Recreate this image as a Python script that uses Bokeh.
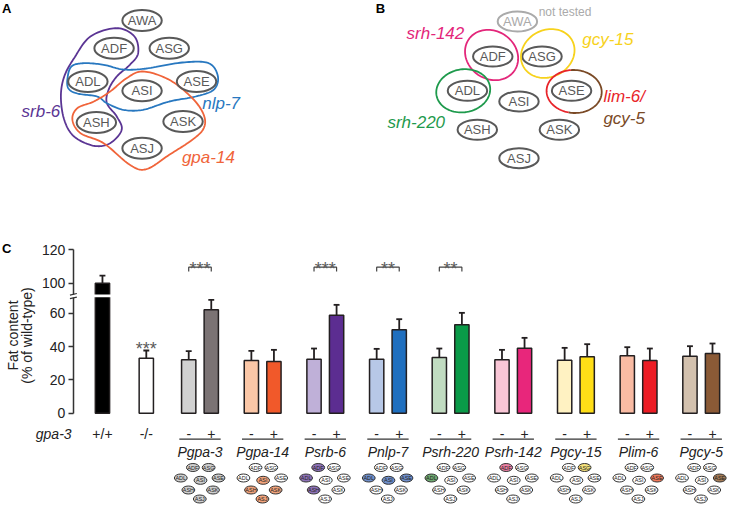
import numpy as np
from bokeh.plotting import figure
from bokeh.models import Range1d, FixedTicker
from bokeh.core.properties import value
from bokeh.embed import file_html
from bokeh.resources import INLINE

FONT = "Liberation Sans"

# ---------------- data ----------------
genotype_labels = ["+/+", "-/-"]
genotype_values = [100, 33]
genotype_errors = [4.5, 4.6]
genotype_colors = ["#000000", "#ffffff"]
genotype_stars = ["", "***"]

promoters = ["Pgpa-3", "Pgpa-14", "Psrb-6", "Pnlp-7", "Psrh-220",
             "Psrh-142", "Pgcy-15", "Plim-6", "Pgcy-5"]
minus_values = [32.0, 31.6, 32.4, 32.4, 33.4, 32.0, 31.8, 34.4, 34.2]
minus_errors = [5.2, 5.8, 6.4, 6.2, 5.4, 6.0, 7.4, 5.2, 6.0]
plus_values = [62.0, 31.0, 58.8, 50.0, 53.0, 39.0, 33.8, 31.6, 35.8]
plus_errors = [6.0, 7.0, 6.2, 6.4, 7.2, 6.2, 7.6, 7.2, 6.0]
significance = ["***", "", "***", "**", "**", "", "", "", ""]
minus_colors = ["#d1d1d1", "#fbc7a7", "#bfb0d8", "#b7c8e7", "#c1dcc1",
                "#f9c6d6", "#fff2c2", "#f9bba3", "#d3c1ae"]
plus_colors = ["#7b7374", "#f1592a", "#5c2d91", "#1f6fbf", "#0a9a48",
               "#e8267b", "#ffde17", "#ec1c24", "#8b5a36"]
y_ticks = [0, 20, 40, 60, 100, 120]

mini_names = ["ADF", "ASG", "ADL", "ASI", "ASE", "ASH", "ASK", "ASJ"]
mini_expressing = [mini_names, ["ASI", "ASH", "ASK", "ASJ"], ["ADF", "ADL", "ASH"],
                   ["ADL", "ASI", "ASE"], ["ADL"], ["ADF"], ["ASG"], ["ASE"], ["ASE"]]
mini_colors = ["#cfcfcf", "#f3a47c", "#8e72b8", "#6f8fcb", "#6faa72",
               "#ea7fa2", "#f6e27a", "#f27a5c", "#a67c56"]

neuron_names = ["AWA", "ADF", "ASG", "ADL", "ASI", "ASE", "ASH", "ASK", "ASJ"]
A_x = [145.7, 117.3, 173.3, 90.7, 145.7, 201.0, 99.3, 187.3, 145.7]
A_y = [24.0, 51.7, 51.7, 85.0, 94.3, 85.0, 126.0, 125.0, 151.7]
B_x = [526.7, 501.7, 551.7, 476.0, 528.3, 581.7, 486.0, 569.3, 528.3]
B_y = [25.0, 60.0, 60.0, 94.3, 105.0, 94.3, 133.3, 133.3, 161.7]

# ---------------- helpers ----------------
def smooth_closed(pts, n=14):
    P = np.array(pts, dtype=float)
    N = len(P)
    out = []
    t = np.linspace(0, 1, n, endpoint=False)[:, None]
    for i in range(N):
        p0, p1, p2, p3 = P[i - 1], P[i], P[(i + 1) % N], P[(i + 2) % N]
        out.append(0.5 * ((2 * p1) + (-p0 + p2) * t + (2 * p0 - 5 * p1 + 4 * p2 - p3) * t ** 2
                          + (-p0 + 3 * p1 - 3 * p2 + p3) * t ** 3))
    out = np.vstack(out)
    out = np.vstack([out, out[:1]])
    return list(out[:, 0]), list(out[:, 1])


def ellipse_pts(cx, cy, a, b, t0, t1, ang=0.0, n=60):
    t = np.linspace(t0, t1, n)
    x = a * np.cos(t)
    y = b * np.sin(t)
    xr = x * np.cos(ang) - y * np.sin(ang)
    yr = x * np.sin(ang) + y * np.cos(ang)
    return list(cx + xr), list(cy + yr)

GRAY = "#595959"
W, H = 729, 504
XA, XSPAN = 2.0, 740.0  # layout-pixel window shown across the figure width
YOFF = 4.0              # layout pixel shown at the figure's top edge
PX_UNIT = 63.6          # layout pixels per pair spacing
Y0 = 416.7              # layout pixel of zero
SC = 1.667              # layout pixels per value unit
PAIR0 = 204.5
BREAK_SHIFT = 22.0


def ty(v):
    return v if v <= 70 else v - BREAK_SHIFT


def dx(px):
    return (px - PAIR0) / PX_UNIT


def dy(py):
    return (Y0 - py) / SC


p = figure(width=W, height=H, x_range=Range1d(dx(XA), dx(XA + XSPAN)),
           y_range=Range1d(dy(YOFF + H), dy(YOFF)), output_backend="svg",
           toolbar_location=None, x_axis_location=None, y_axis_location="left",
           min_border=0, outline_line_color=None)
p.extra_x_ranges = {"px": Range1d(XA, XA + XSPAN)}
p.extra_y_ranges = {"px": Range1d(YOFF + H, YOFF)}
p.grid.visible = False
PX = dict(x_range_name="px", y_range_name="px")

ax = p.yaxis[0]
ax.fixed_location = dx(76)
ax.ticker = FixedTicker(ticks=[ty(v) for v in y_ticks])
ax.major_label_overrides = {ty(v): str(v) for v in y_ticks}
ax.bounds = (0, ty(120))
ax.minor_tick_line_color = None
ax.major_tick_in = 0
ax.major_tick_out = 5
ax.axis_line_width = 1.5
ax.axis_line_color = "#333333"
ax.major_tick_line_color = "#333333"
ax.major_tick_line_width = 1.5
ax.major_label_text_font = FONT
ax.major_label_text_font_size = "14px"
ax.major_label_text_color = "#222222"
ax.major_label_standoff = 3

F = value(FONT)

# ---------------- panel A ----------------
srb6 = [(120, 31.7), (138, 40), (141.7, 56.7), (133.3, 68.3), (120, 80), (111.7, 93.3),
        (110, 106.7), (120, 120), (125, 133.3), (113.3, 146.7), (96.7, 149.3), (76.7, 140),
        (66.7, 123.3), (63.3, 100), (66.7, 80), (76.7, 61.7), (93.3, 40)]
nlp7 = [(70, 82), (74, 70), (86.7, 66.7), (106.7, 68.3), (126.7, 73), (150, 72),
        (186.7, 66), (213.3, 66.7), (222.7, 80), (218.3, 93.3), (200, 100), (173.3, 105),
        (146.7, 113.3), (126.7, 113.3), (110, 106.7), (100, 100), (80, 97), (71, 92)]
gpa14 = [(146.7, 75), (173.3, 83.3), (196.7, 101.7), (208.3, 118.3), (208.3, 131.7),
         (196.7, 143.3), (173.3, 158.3), (150, 172.7), (133.3, 168.3), (106.7, 146.7),
         (83.3, 136.7), (75, 123.3), (80, 111.7), (96.7, 105), (113.3, 95), (130, 81.7)]
for pts, col in [(srb6, "#5b3594"), (nlp7, "#2878c0"), (gpa14, "#f0643a")]:
    xs, ys = smooth_closed(pts)
    p.line(xs, ys, line_color=col, line_width=1.8, **PX)

p.ellipse(A_x, A_y, width=40, height=21, fill_color=None, line_color=GRAY, line_width=2, **PX)
p.text(A_x, A_y, text=neuron_names, text_font=F, text_font_size="13px",
       text_color=GRAY, text_align="center", text_baseline="middle", **PX)

for x, y, t, c in [(43, 115, "srb-6", "#5b3594"), (226, 107, "nlp-7", "#2878c0"),
                   (213, 161, "gpa-14", "#f0643a")]:
    p.text([x], [y], text=[t], text_font=F, text_font_style="italic", text_font_size="17px",
           text_color=c, text_align="center", text_baseline="middle", **PX)

# ---------------- panel B ----------------
b_colors = ["#aaaaaa"] + [GRAY] * 8
p.ellipse(B_x, B_y, width=40, height=20, fill_color=None, line_color=b_colors, line_width=2, **PX)
p.text(B_x, B_y, text=neuron_names, text_font=F, text_font_size="13px",
       text_color=b_colors, text_align="center", text_baseline="middle", **PX)

for cx, cy, a, b, ang, col in [(500.5, 58.5, 28, 24, 0.55, "#e3267a"),
                                (557.5, 57, 28, 23.5, -0.45, "#f7d21c"),
                                (471.7, 94.3, 27.5, 21.5, -0.15, "#1e9a4c")]:
    xs, ys = ellipse_pts(cx, cy, a, b, 0, 2 * np.pi, ang, 90)
    p.line(xs, ys, line_color=col, line_width=1.8, **PX)
xs, ys = ellipse_pts(584.3, 95, 28, 21.5, 0.55 * np.pi, 1.45 * np.pi, 0.05)
p.line(xs, ys, line_color="#e8242a", line_width=1.8, **PX)
xs, ys = ellipse_pts(584.3, 95, 28, 21.5, -0.55 * np.pi, 0.55 * np.pi, 0.05)
p.line(xs, ys, line_color="#7a4a26", line_width=1.8, **PX)

for x, y, t, c, al in [(443.5, 37, "srh-142", "#e3267a", "center"),
                       (618.5, 43, "gcy-15", "#f7d21c", "center"),
                       (424, 126, "srh-220", "#1e9a4c", "center"),
                       (614, 100, "lim-6/", "#e8242a", "left"),
                       (614, 122, "gcy-5", "#7a4a26", "left")]:
    p.text([x], [y], text=[t], text_font=F, text_font_style="italic",
           text_font_size="17px", text_color=c, text_align=al, text_baseline="middle", **PX)
p.text([575], [15], text=["not tested"], text_font=F, text_font_size="12px",
       text_color="#aaaaaa", text_align="center", text_baseline="middle", **PX)

p.text([3.5, 383, 3.5], [4, 4, 244], text=["A", "B", "C"], text_font=F, text_font_style="bold",
       text_font_size="13px", text_color="#000000", text_align="left", text_baseline="top", **PX)

# ---------------- panel C ----------------
BW = 0.228
OFF = 0.18
g_x = [dx(105.5), dx(150)]
m_x = [k - OFF for k in range(len(promoters))]
p_x = [k + OFF for k in range(len(promoters))]
all_x = g_x + m_x + p_x
all_v = genotype_values + minus_values + plus_values
all_e = genotype_errors + minus_errors + plus_errors
all_c = genotype_colors + minus_colors + plus_colors
tops = [ty(v) for v in all_v]
etops = [ty(v + e) for v, e in zip(all_v, all_e)]

p.segment(all_x, tops, all_x, etops, line_color="#231f20", line_width=1.8)
cap = 3.0 / PX_UNIT
p.segment([x - cap for x in all_x], etops, [x + cap for x in all_x], etops,
          line_color="#231f20", line_width=1.8)
p.vbar(x=all_x, top=tops, bottom=0, width=BW, fill_color=all_c,
       line_color="#231f20", line_width=1.5)
# break gap through the +/+ bar
p.rect([g_x[0]], [dy(299.3)], width=BW * 1.3, height=1.7, fill_color="white", line_color=None)

# y-axis break marks (drawn over the axis line)
p.rect([76], [299.5], width=5, height=3.2, fill_color="white", line_color=None,
       level="overlay", **PX)
p.segment([72.5, 72.5], [298.6, 302.2], [79.5, 79.5], [297.0, 300.6], line_color="#333333",
          line_width=1.2, level="overlay", **PX)

# y title
p.text([14.5, 28.5], [339, 339], text=["Fat content", "(% of wild-type)"], angle=np.pi / 2,
       text_font=F, text_font_size="14px", text_color="#222222", text_align="center",
       text_baseline="middle", **PX)

# stars
for x, v, e, s in zip(g_x, genotype_values, genotype_errors, genotype_stars):
    if s:
        p.text([x], [ty(v + e) + 1.0], text=[s], text_font=F, text_font_size="18px",
               text_color="#5a5a5a", text_align="center", text_baseline="alphabetic")
BR_Y = dy(270.7)
BR_T = dy(275)
for k, s in enumerate(significance):
    if s:
        p.line([k - OFF, k - OFF, k + OFF, k + OFF], [BR_T, BR_Y, BR_Y, BR_T],
               line_color="#444444", line_width=1.2)
        p.text([k], [BR_Y - 1.0], text=[s], text_font=F, text_font_size="18px",
               text_color="#5a5a5a", text_align="center", text_baseline="alphabetic")

# x labels
LAB_Y = dy(437.5)
p.text([dx(56)], [LAB_Y], text=["gpa-3"], text_font=F, text_font_style="italic",
       text_font_size="14px", text_color="#222222", text_align="center", text_baseline="middle")
p.text(g_x, [LAB_Y] * 2, text=genotype_labels, text_font=F, text_font_size="14px",
       text_color="#222222", text_align="center", text_baseline="middle")
p.text(m_x + p_x, [LAB_Y] * (2 * len(promoters)),
       text=["-"] * len(promoters) + ["+"] * len(promoters), text_font=F,
       text_font_size="14px", text_color="#222222", text_align="center", text_baseline="middle")
UL_Y = dy(442.7)
p.segment([k - 0.33 for k in range(len(promoters))], [UL_Y] * len(promoters),
          [k + 0.33 for k in range(len(promoters))], [UL_Y] * len(promoters),
          line_color="#333333", line_width=1.2)
p.text(list(range(len(promoters))), [dy(455)] * len(promoters), text=promoters,
       text_font=F, text_font_style="italic", text_font_size="14px",
       text_color="#222222", text_align="center", text_baseline="middle")

# mini neuron diagrams
mini_dx = [-7.2, 8.8, -19.5, 0.5, 18.8, -11.8, 13.2, -0.2]
mini_py = [471.0, 471.0, 481.5, 483.8, 481.5, 493.5, 493.5, 502.5]
mx, my, mc, mt = [], [], [], []
for k, expr in enumerate(mini_expressing):
    for nm, ddx, py in zip(mini_names, mini_dx, mini_py):
        mx.append(k + ddx / PX_UNIT)
        my.append(dy(py))
        mc.append(mini_colors[k] if nm in expr else "#ffffff")
        mt.append(nm)
p.ellipse(mx, my, width=13.0 / PX_UNIT, height=8.0 / SC, fill_color=mc,
          line_color="#333333", line_width=1)
p.text(mx, my, text=mt, text_font=F, text_font_size="5.5px",
       text_color="#222222", text_align="center", text_baseline="middle")

open("out.html", "w").write(file_html(p, INLINE))
